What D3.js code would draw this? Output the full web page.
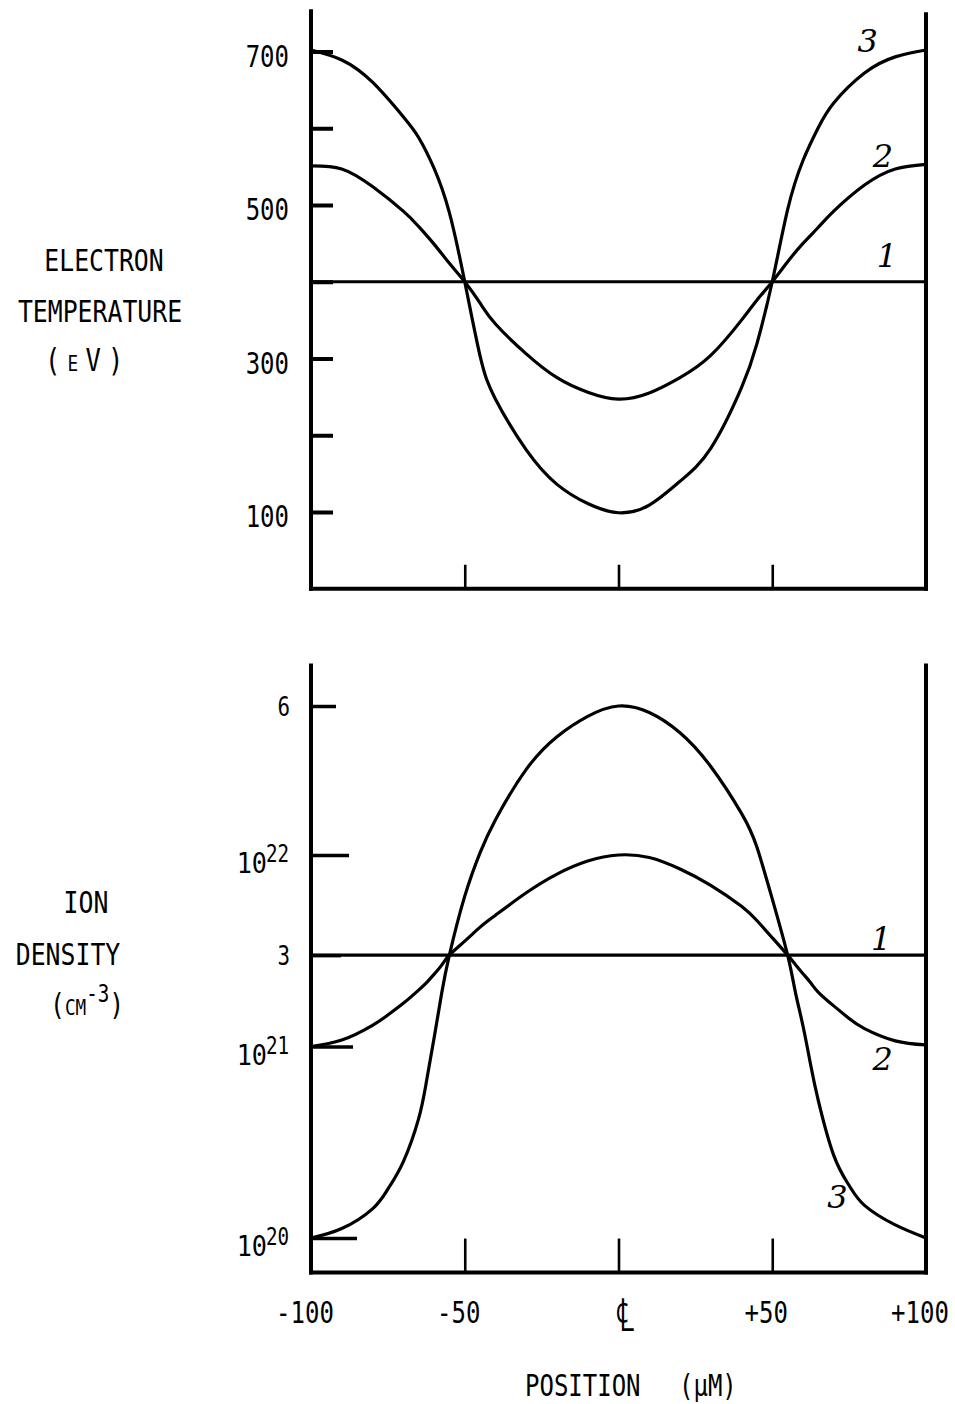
<!DOCTYPE html>
<html>
<head>
<meta charset="utf-8">
<script src="https://cdn.jsdelivr.net/npm/d3@7"></script>
<style>
  html, body { margin: 0; padding: 0; background: #fff; }
  svg text { font-family: "DejaVu Sans Mono", "Liberation Mono", monospace; fill: #000; }
  .case { font-family: "DejaVu Serif", "Liberation Serif", serif; font-style: italic; }
</style>
</head>
<body>
<svg id="chart" width="955" height="1404"></svg>
<script>
// ---- Electron temperature (eV) across the sample, position in micrometres ----
const tempPositions = [-100, -90, -80, -70, -65, -60, -55, -50, -45, -40, -30, -20, -10, 0,
                       10, 20, 30, 40, 45, 50, 55, 60, 65, 70, 80, 90, 100];
const tempCase2 = [551, 547, 524, 492, 472, 449, 424, 400, 372, 345, 306, 275, 256, 247,
                   255, 275, 304, 350, 376, 400, 426, 450, 471, 492, 526, 547, 553];
const tempCase3 = [702, 689, 660, 615, 588, 548, 490, 400, 303, 247, 181, 136, 111, 99,
                   109, 140, 183, 262, 319, 400, 494, 558, 601, 633, 672, 693, 702];
const flatPositions = [-100, 100];
const tempCase1 = [400, 400];

// ---- Ion density (cm^-3) across the sample ----
const densPositions = [-100, -90, -80, -75, -70, -65, -62.5, -60, -57.5, -55, -50, -45, -40, -30,
                       -20, -10, 0, 10, 20, 30, 40, 45, 50, 55, 57.5, 60, 62.5, 65, 70, 75, 80,
                       90, 100];
const densCase2 = [1.0e21, 1.08e21, 1.29e21, 1.46e21, 1.68e21, 1.97e21, 2.15e21, 2.38e21, 2.66e21,
                   3.0e21, 3.55e21, 4.2e21, 4.85e21, 6.35e21, 7.95e21, 9.3e21, 1.0e22, 9.7e21,
                   8.45e21, 6.95e21, 5.4e21, 4.55e21, 3.7e21, 3.0e21, 2.68e21, 2.4e21, 2.15e21,
                   1.92e21, 1.63e21, 1.4e21, 1.24e21, 1.07e21, 1.02e21];
const densCase3 = [1.0e20, 1.12e20, 1.42e20, 1.8e20, 2.5e20, 4.2e20, 6.5e20, 1.1e21, 1.9e21,
                   3.0e21, 6.1e21, 1.03e22, 1.53e22, 2.8e22, 4.15e22, 5.3e22, 6.0e22, 5.55e22,
                   4.35e22, 2.9e22, 1.65e22, 1.1e22, 5.9e21, 3.0e21, 1.93e21, 1.28e21, 8.0e20,
                   5.2e20, 2.7e20, 1.88e20, 1.48e20, 1.17e20, 1.0e20];
const densCase1 = [3e21, 3e21];

// ---- Axis ticks and labels ----
const tempTicks = [100, 200, 300, 400, 500, 600, 700];
const tempTickLabels = [100, 300, 500, 700];
const densTicks = [1e20, 1e21, 3e21, 1e22, 6e22];
const densTickBase = ["10", "10", "3", "10", "6"];
const densTickExp = ["20", "21", "", "22", ""];
const posTicks = [-50, 0, 50];
const posLabelValues = [-100, -50, 0, 50, 100];
const posLabels = ["-100", "-50", "\u2104", "+50", "+100"];

const svg = d3.select("#chart");
svg.append("rect").attr("width", 955).attr("height", 1404).attr("fill", "#fff");

// shared horizontal scale
const x = d3.scaleLinear().domain([-100, 100]).range([311, 926]);
const yT = d3.scaleLinear().domain([100, 700]).range([512, 51.5]);
const yD = d3.scaleLog().domain([1e20, 6e22]).range([1238, 706]);

function squeeze(sel, k) {
  sel.each(function () {
    const w = this.getComputedTextLength();
    if (w > 0) d3.select(this).attr("textLength", w * k).attr("lengthAdjust", "spacingAndGlyphs");
  });
}
function label(x0, y0, anchor, fs, k = 0.8) {
  return svg.append("text")
    .attr("transform", `translate(${x0},${y0}) scale(${k},1)`)
    .attr("text-anchor", anchor)
    .style("font-size", fs + "px");
}

const ink = "#000";
const curveW = 3.2;

// ================= Upper panel: electron temperature =================
const gTop = svg.append("g");

// frame: left, right and bottom edges
gTop.append("line").attr("x1", x(-100)).attr("x2", x(-100)).attr("y1", yT(755)).attr("y2", yT(0) + 2)
  .attr("stroke", ink).attr("stroke-width", 4);
gTop.append("line").attr("x1", x(100)).attr("x2", x(100)).attr("y1", yT(751)).attr("y2", yT(0) + 2)
  .attr("stroke", ink).attr("stroke-width", 4);
gTop.append("line").attr("x1", x(-100) - 2).attr("x2", x(100) + 2).attr("y1", yT(0)).attr("y2", yT(0))
  .attr("stroke", ink).attr("stroke-width", 4);

// y ticks pointing inward, labels every 200 eV
const tAxis = gTop.append("g").attr("transform", `translate(${x(-100)},0)`)
  .call(d3.axisLeft(yT).tickValues(tempTicks).tickSize(-22).tickPadding(22)
    .tickFormat(d => tempTickLabels.includes(d) ? d : ""));
tAxis.select(".domain").remove();
tAxis.selectAll(".tick line").attr("stroke", ink).attr("stroke-width", 4);
tAxis.selectAll(".tick text").attr("dy", 14.5).style("font-size", "30px").attr("fill", ink);
squeeze(tAxis.selectAll(".tick text"), 0.8);

// x ticks pointing inward
const tX = gTop.append("g").attr("transform", `translate(0,${yT(0)})`)
  .call(d3.axisBottom(x).tickValues(posTicks).tickSize(-24).tickFormat(""));
tX.select(".domain").remove();
tX.selectAll(".tick line").attr("stroke", ink).attr("stroke-width", 2.6);

const lineT = d3.line().x(d => x(d[0])).y(d => yT(d[1])).curve(d3.curveNatural);
[[flatPositions, tempCase1], [tempPositions, tempCase2], [tempPositions, tempCase3]].forEach(([xs, ys]) => {
  gTop.append("path").datum(d3.zip(xs, ys)).attr("d", lineT)
    .attr("fill", "none").attr("stroke", ink).attr("stroke-width", curveW).attr("stroke-linejoin", "round");
});

// case numbers
[["3", 81, 699], ["2", 86, 550], ["1", 87.3, 419]].forEach(([t, px, v]) => {
  gTop.append("text").attr("class", "case").attr("x", x(px)).attr("y", yT(v))
    .attr("text-anchor", "middle").style("font-size", "32px").text(t);
});

// y title
label(104, 271, "middle", 31).text("ELECTRON");
label(100, 322, "middle", 31).text("TEMPERATURE");
label(45, 371, "start", 32).style("font-variant", "small-caps").style("letter-spacing", "9px")
  .text("(eV)");

// ================= Lower panel: ion density =================
const gBot = svg.append("g");
gBot.append("line").attr("x1", x(-100)).attr("x2", x(-100)).attr("y1", yD(1e23)).attr("y2", yD(6.6e19) + 2)
  .attr("stroke", ink).attr("stroke-width", 4);
gBot.append("line").attr("x1", x(100)).attr("x2", x(100)).attr("y1", yD(1e23)).attr("y2", yD(6.6e19) + 2)
  .attr("stroke", ink).attr("stroke-width", 4);
gBot.append("line").attr("x1", x(-100) - 2).attr("x2", x(100) + 2).attr("y1", yD(6.6e19)).attr("y2", yD(6.6e19))
  .attr("stroke", ink).attr("stroke-width", 4);

const densTickLen = [46, 42, 30, 38, 25];
const dAxis = gBot.append("g").attr("transform", `translate(${x(-100)},0)`)
  .call(d3.axisLeft(yD).tickValues(densTicks).tickSize(-30).tickFormat(""));
dAxis.select(".domain").remove();
dAxis.selectAll(".tick line").attr("stroke", ink).attr("stroke-width", 3.5)
  .attr("x2", (d, i) => densTickLen[i]);

densTicks.forEach((v, i) => {
  const ty = yD(v);
  if (densTickExp[i]) {
    label(267, ty + 18, "end", 28, 0.9).text(densTickBase[i]);
    label(289, ty + 7, "end", 24, 0.8).text(densTickExp[i]);
  } else {
    label(290, ty + 10, "end", 26, 0.8).text(densTickBase[i]);
  }
});

const bX = gBot.append("g").attr("transform", `translate(0,${yD(6.6e19)})`)
  .call(d3.axisBottom(x).tickValues(posTicks).tickSize(-34).tickFormat(""));
bX.select(".domain").remove();
bX.selectAll(".tick line").attr("stroke", ink).attr("stroke-width", 2.6);

// position labels under the lower panel
posLabelValues.forEach((v, i) => {
  const c = posLabels[i] === "\u2104";
  label(x(v) + (c ? 7 : -6), c ? 1331 : 1323, "middle", c ? 46 : 30, c ? 0.7 : 0.8).text(posLabels[i]);
});

const lineD = d3.line().x(d => x(d[0])).y(d => yD(d[1])).curve(d3.curveNatural);
[[flatPositions, densCase1], [densPositions, densCase2], [densPositions, densCase3]].forEach(([xs, ys]) => {
  gBot.append("path").datum(d3.zip(xs, ys)).attr("d", lineD)
    .attr("fill", "none").attr("stroke", ink).attr("stroke-width", curveW).attr("stroke-linejoin", "round");
});

[["1", 85.4, 3.19e21], ["2", 85.9, 7.5e20], ["3", 71.2, 1.43e20]].forEach(([t, px, v]) => {
  gBot.append("text").attr("class", "case").attr("x", x(px)).attr("y", yD(v))
    .attr("text-anchor", "middle").style("font-size", "32px").text(t);
});

// y title
label(86, 913, "middle", 31).text("ION");
label(68, 965, "middle", 31).text("DENSITY");
const unit = label(50, 1015, "start", 31);
unit.append("tspan").text("(");
unit.append("tspan").style("font-variant", "small-caps").text("cm");
unit.append("tspan").attr("dy", -13).style("font-size", "24px").text("-3");
unit.append("tspan").attr("dy", 13).text(")");

// x title
label(525, 1396, "start", 30).text("POSITION");
label(679, 1396, "start", 30).text("(\u03bcM)");
</script>
</body>
</html>
